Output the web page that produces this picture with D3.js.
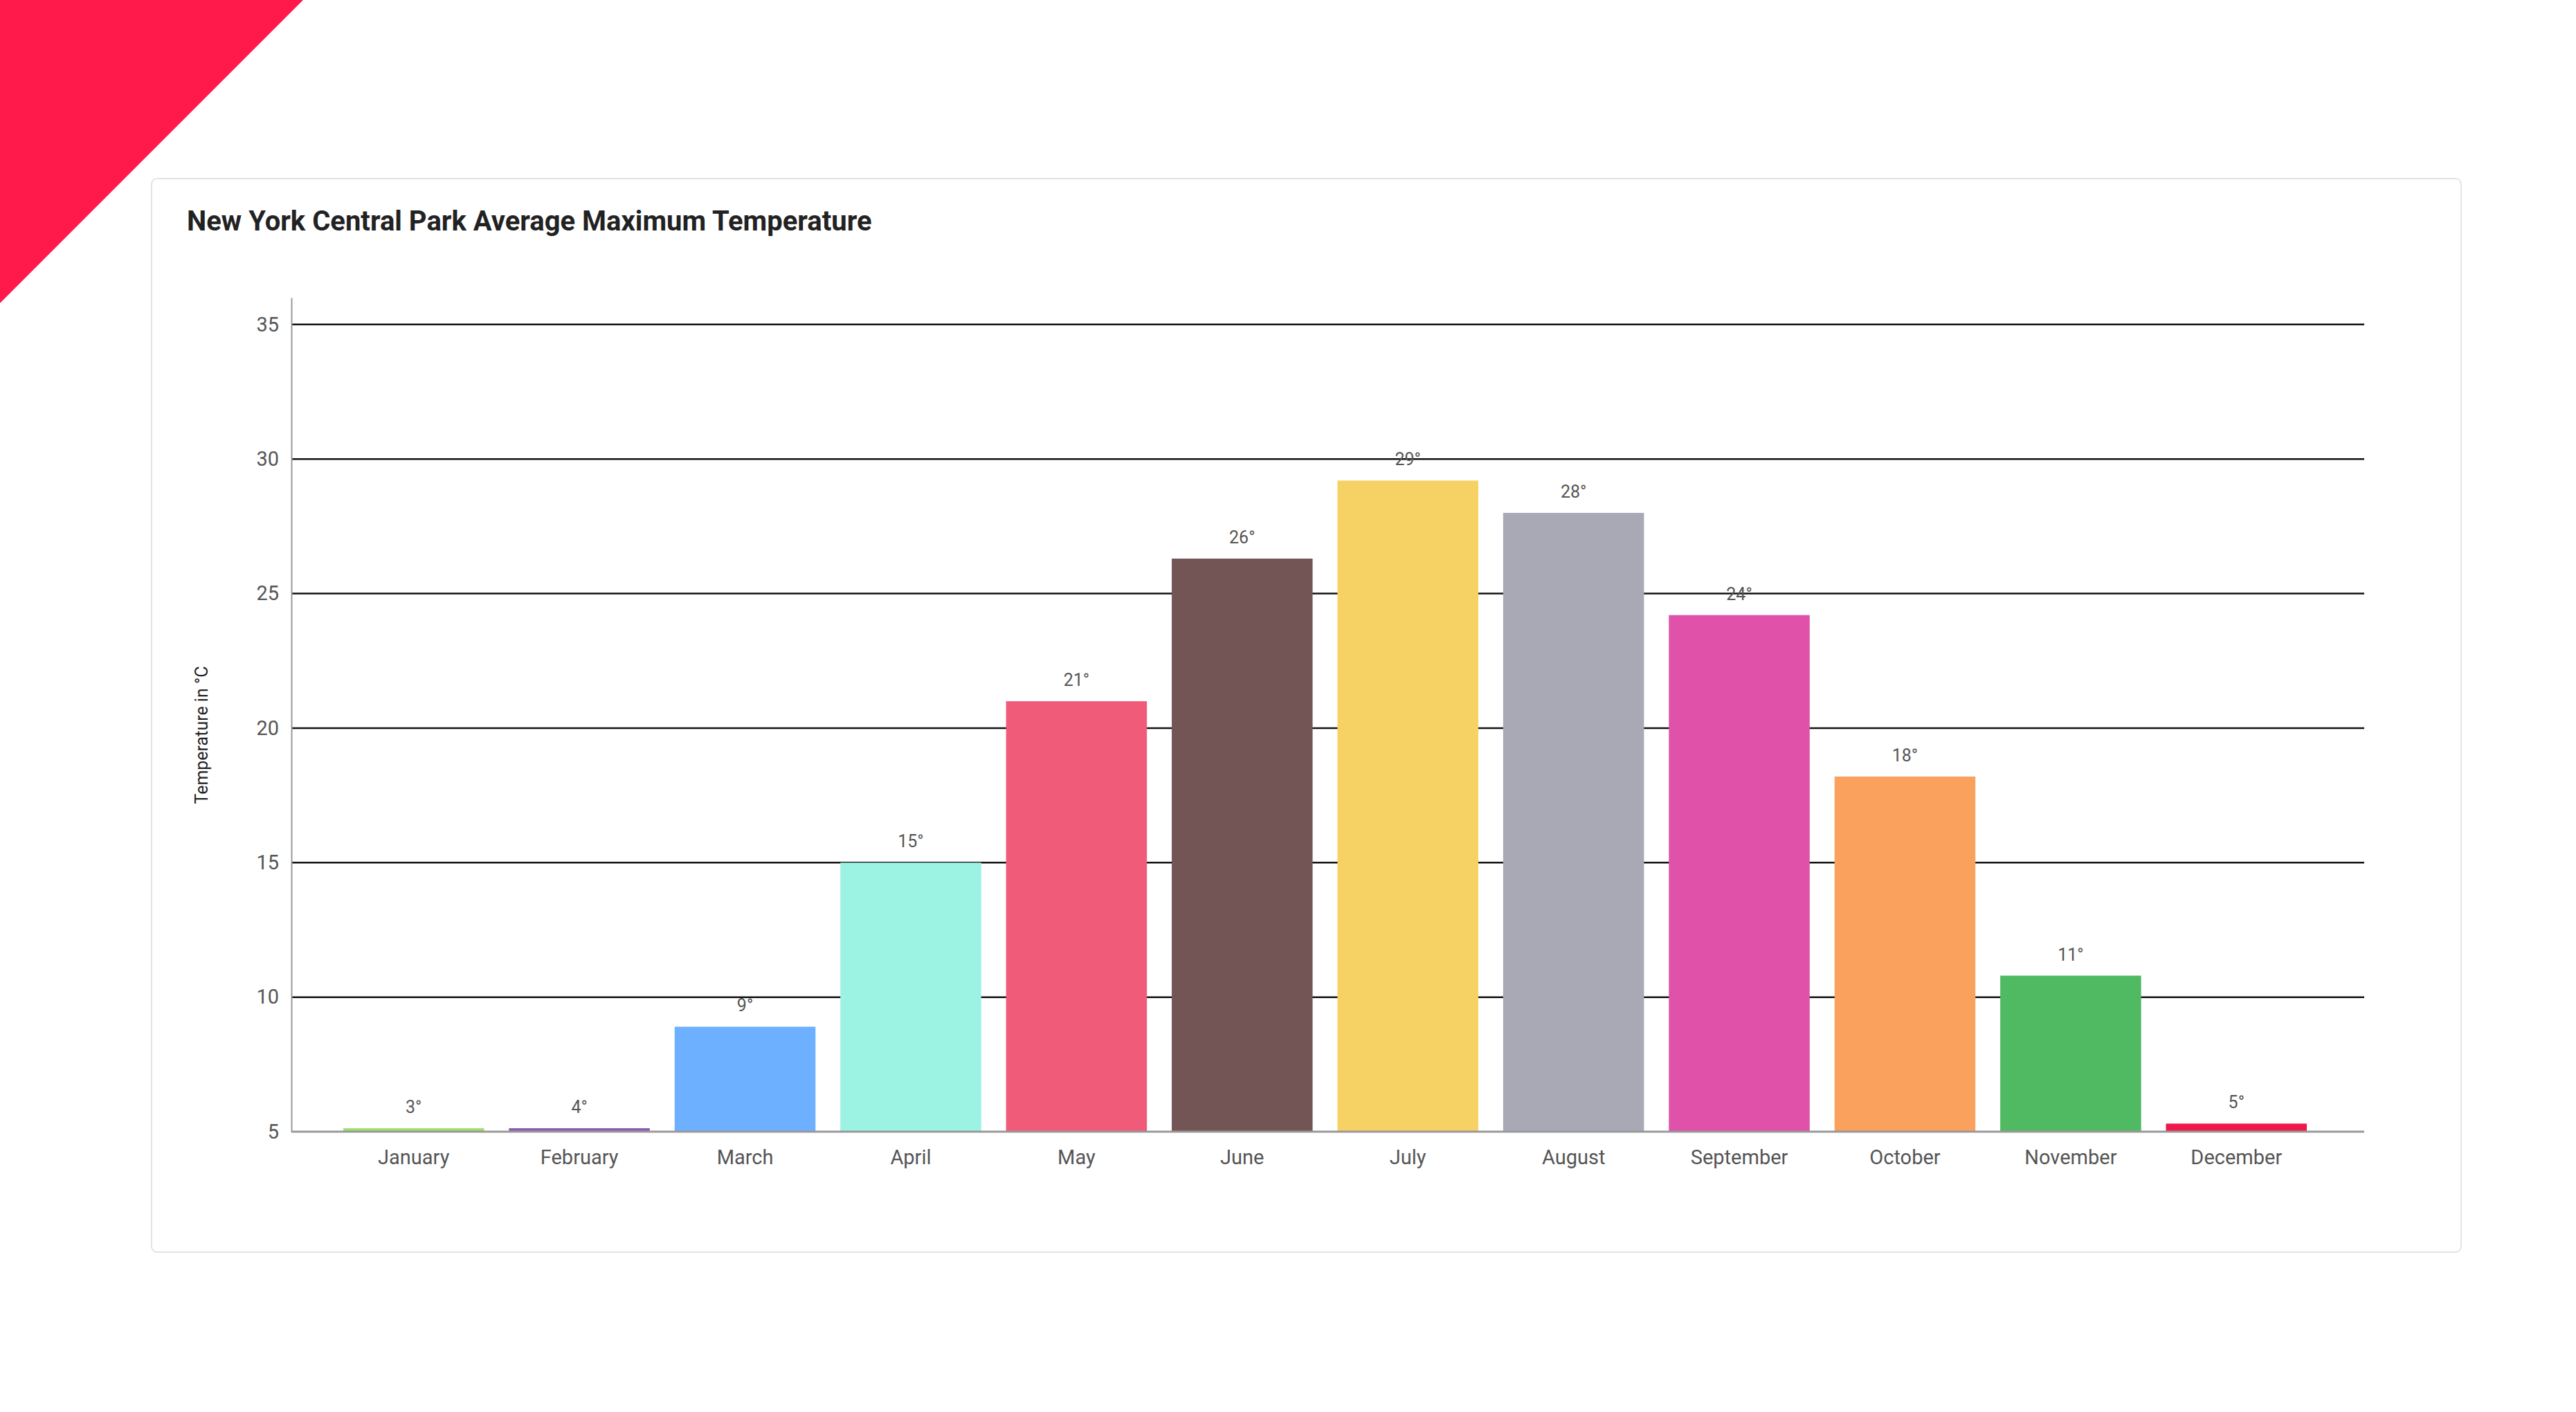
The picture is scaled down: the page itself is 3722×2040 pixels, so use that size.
<!DOCTYPE html>
<html>
<head>
<meta charset="utf-8">
<script src="https://cdn.jsdelivr.net/npm/d3@7"></script>
<style>
  body { margin: 0; background: #fff; }
  svg { display: block; font-family: Roboto, "Open Sans", sans-serif; }
</style>
</head>
<body>
<svg id="chart" width="3722" height="2040"></svg>
<script>
// chart data
const months = ["January", "February", "March", "April", "May", "June",
                "July", "August", "September", "October", "November", "December"];
const temps = [3.2, 4.4, 8.9, 15.0, 21.0, 26.3, 29.2, 28.0, 24.2, 18.2, 10.8, 5.3];
const colors = ["#9ee06b", "#8a5bb5", "#6cb0ff", "#9cf3e3", "#ef5b78", "#735555",
                "#f6d264", "#a9a8b5", "#e051aa", "#f9a15d", "#4fba61", "#f0174a"];
const yTicks = [5, 10, 15, 20, 25, 30, 35];

let svg = d3.select('#chart');

// red corner triangle
svg.append('path').attr('d', 'M0,0L438,0L0,438Z').attr('fill', '#ff1a4b');

// card
svg.append('rect')
    .attr('x', 219).attr('y', 258).attr('width', 3337).attr('height', 1551)
    .attr('rx', 8).attr('fill', '#fff').attr('stroke', '#e3e3e3').attr('stroke-width', 2);

svg.append('text')
    .attr('x', 270).attr('y', 333)
    .attr('font-size', 40).attr('font-weight', 'bold').attr('fill', '#222')
    .text('New York Central Park Average Maximum Temperature');

let x = d3.scaleBand().domain(months).range([478, 3351]).paddingInner(0.15).paddingOuter(0.075);
let y = d3.scaleLinear().domain([5, 36]).range([1635, 430]);
const left = 421, right = 3416;

// gridlines
svg.append('g').selectAll('line').data(yTicks.slice(1)).join('line')
    .attr('x1', left).attr('x2', right)
    .attr('y1', d => y(d)).attr('y2', d => y(d))
    .attr('stroke', '#111').attr('stroke-width', 2.5);

// y axis
let yAxis = svg.append('g').attr('transform', `translate(${left},0)`)
    .call(d3.axisLeft(y).tickValues(yTicks).tickSize(0).tickPadding(18));
yAxis.select('.domain').attr('stroke', '#999').attr('stroke-width', 2);
yAxis.selectAll('text').attr('font-size', 29).attr('fill', '#555').attr('font-family', 'Roboto');

svg.append('text')
    .attr('transform', 'translate(300,1062) rotate(-90)')
    .attr('text-anchor', 'middle').attr('font-size', 25).attr('fill', '#222')
    .text('Temperature in °C');

// bars
svg.append('g').selectAll('rect').data(temps).join('rect')
    .attr('x', (d, i) => x(months[i]))
    .attr('width', x.bandwidth())
    .attr('y', d => Math.min(y(Math.max(d, 5)), y(5) - 5))
    .attr('height', d => Math.max(y(5) - y(Math.max(d, 5)), 5))
    .attr('fill', (d, i) => colors[i]);

// value labels
svg.append('g').selectAll('text').data(temps).join('text')
    .attr('x', (d, i) => x(months[i]) + x.bandwidth() / 2)
    .attr('y', d => Math.min(y(Math.max(d, 5)), y(5) - 5) - 22)
    .attr('text-anchor', 'middle').attr('font-size', 25).attr('fill', '#555')
    .text(d => Math.round(d) + '°');

// x axis
let xAxis = svg.append('g').attr('transform', `translate(0,${y(5)})`)
    .call(d3.axisBottom(x).tickSize(0).tickPadding(26));
xAxis.select('.domain').remove();
svg.append('line').attr('x1', left).attr('x2', right).attr('y1', y(5)).attr('y2', y(5))
    .attr('stroke', '#999').attr('stroke-width', 3);
xAxis.selectAll('text').attr('font-size', 29).attr('fill', '#555').attr('font-family', 'Roboto');
</script>
</body>
</html>
